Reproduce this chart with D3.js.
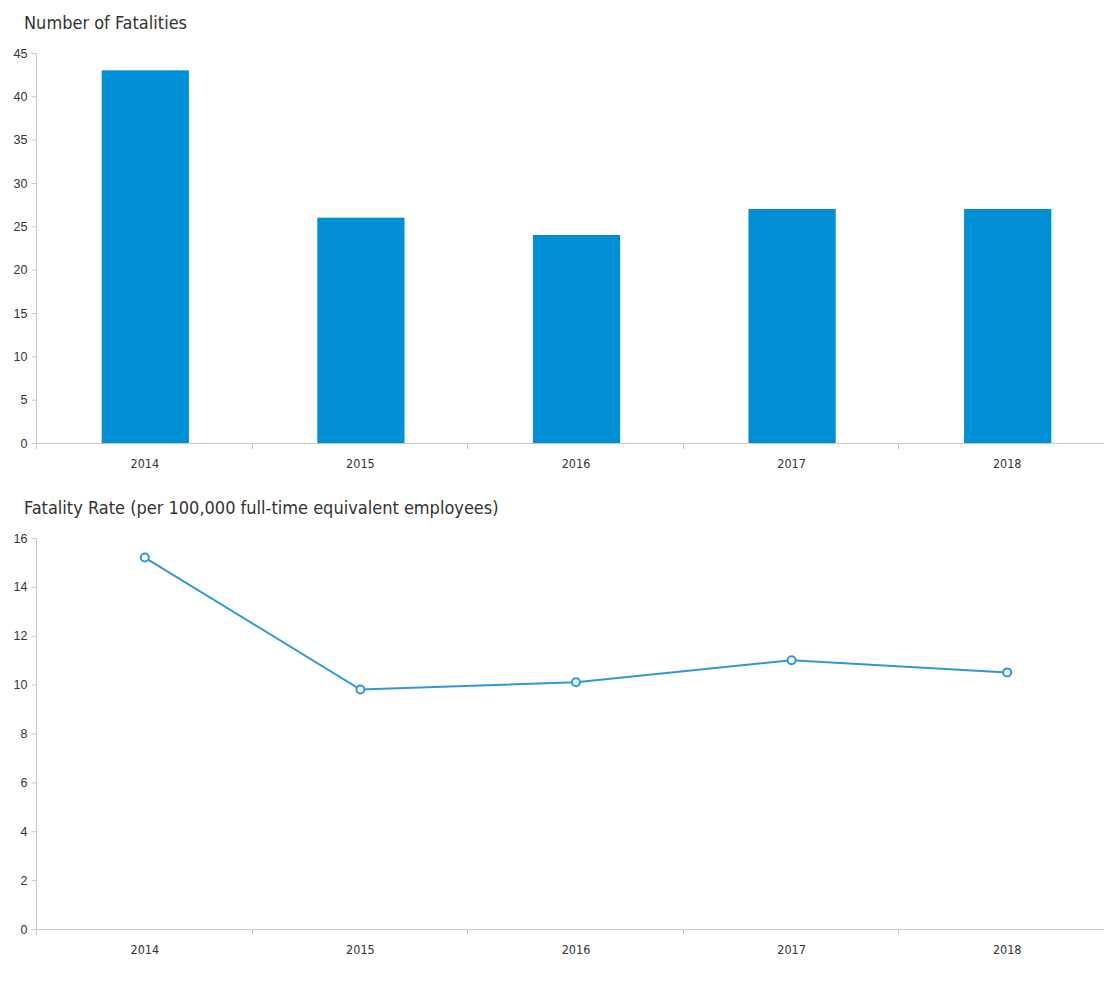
<!DOCTYPE html>
<html>
<head>
<meta charset="utf-8">
<script src="https://cdn.jsdelivr.net/npm/d3@7"></script>
<style>
  html, body { margin: 0; padding: 0; background: #fff; }
  svg { display: block; font-family: "DejaVu Sans Condensed", "DejaVu Sans", sans-serif; }
  .tick text { fill: #333; font-size: 12.5px; }
  .domain, .tick line { stroke: #c8c8c8; }
  .title { fill: #333; font-size: 18px; }
</style>
</head>
<body>
<svg id="chart" width="1104" height="985"></svg>
<script>
const years = ["2014", "2015", "2016", "2017", "2018"];
const fatalities = [43, 26, 24, 27, 27];
const fatalityRate = [15.2, 9.8, 10.1, 11.0, 10.5];
const fatalityTicks = [0, 5, 10, 15, 20, 25, 30, 35, 40, 45];
const rateTicks = [0, 2, 4, 6, 8, 10, 12, 14, 16];
const titleTop = "Number of Fatalities";
const titleBottom = "Fatality Rate (per 100,000 full-time equivalent employees)";

const svg = d3.select("#chart");
const left = 36, right = 1114, axisEnd = 1104;

function xAxisWithBoundaries(g, x, y0) {
  g.append("line")
    .attr("x1", left).attr("x2", axisEnd)
    .attr("y1", y0 + 0.5).attr("y2", y0 + 0.5)
    .attr("stroke", "#c8c8c8");
  years.forEach((d) => {
    const bx = x(d) - (x.step() - x.bandwidth()) / 2;
    g.append("line")
      .attr("x1", Math.round(bx) + 0.5).attr("x2", Math.round(bx) + 0.5)
      .attr("y1", y0).attr("y2", y0 + 6)
      .attr("stroke", "#c8c8c8");
  });
  g.selectAll("text.xl").data(years).join("text")
    .attr("class", "xl")
    .attr("x", d => x(d) + x.bandwidth() / 2 + 1)
    .attr("y", y0 + 25)
    .attr("text-anchor", "middle")
    .attr("fill", "#333")
    .attr("font-size", 12.5)
    .text(d => d);
}

// ---------- Top bar chart ----------
{
  const y0 = 443, y1 = 53;
  const x = d3.scaleBand().domain(years).range([left, right]).paddingInner(0.6).paddingOuter(0.3);
  const y = d3.scaleLinear().domain([0, 45]).range([y0, y1]);
  const g = svg.append("g");

  g.append("text").attr("class", "title").attr("x", 24).attr("y", 29).text(titleTop);

  g.append("g").attr("transform", `translate(${left + 0.5},0)`)
    .call(d3.axisLeft(y).tickValues(fatalityTicks).tickSize(5).tickPadding(4))
    .call(a => a.select(".domain").attr("d", `M-5,${y1 + 0.5}H0V${y0}`));

  g.selectAll("rect").data(years).join("rect")
    .attr("x", d => x(d) + 1)
    .attr("width", x.bandwidth() + 1)
    .attr("y", (d, i) => y(fatalities[i]))
    .attr("height", (d, i) => y0 - y(fatalities[i]))
    .attr("fill", "#008fd5");

  xAxisWithBoundaries(g, x, y0);
}

// ---------- Bottom line chart ----------
{
  const y0 = 929, y1 = 538;
  const x = d3.scaleBand().domain(years).range([left, right]).paddingInner(0).paddingOuter(0);
  const y = d3.scaleLinear().domain([0, 16]).range([y0, y1]);
  const g = svg.append("g");

  g.append("text").attr("class", "title").attr("x", 24).attr("y", 514).text(titleBottom);

  g.append("g").attr("transform", `translate(${left + 0.5},0)`)
    .call(d3.axisLeft(y).tickValues(rateTicks).tickSize(5).tickPadding(4))
    .call(a => a.select(".domain").attr("d", `M-5,${y1 + 0.5}H0V${y0}`));

  xAxisWithBoundaries(g, x, y0);

  const cx = d => x(d) + x.bandwidth() / 2 + 1;
  const line = d3.line().x((d, i) => cx(years[i])).y(d => y(d));
  g.append("path").datum(fatalityRate)
    .attr("d", line)
    .attr("fill", "none")
    .attr("stroke", "#2f97d8")
    .attr("stroke-width", 2);

  g.selectAll("circle").data(fatalityRate).join("circle")
    .attr("cx", (d, i) => cx(years[i]))
    .attr("cy", d => y(d))
    .attr("r", 4)
    .attr("fill", "#fff")
    .attr("stroke", "#2f97d8")
    .attr("stroke-width", 2);
}
</script>
</body>
</html>
